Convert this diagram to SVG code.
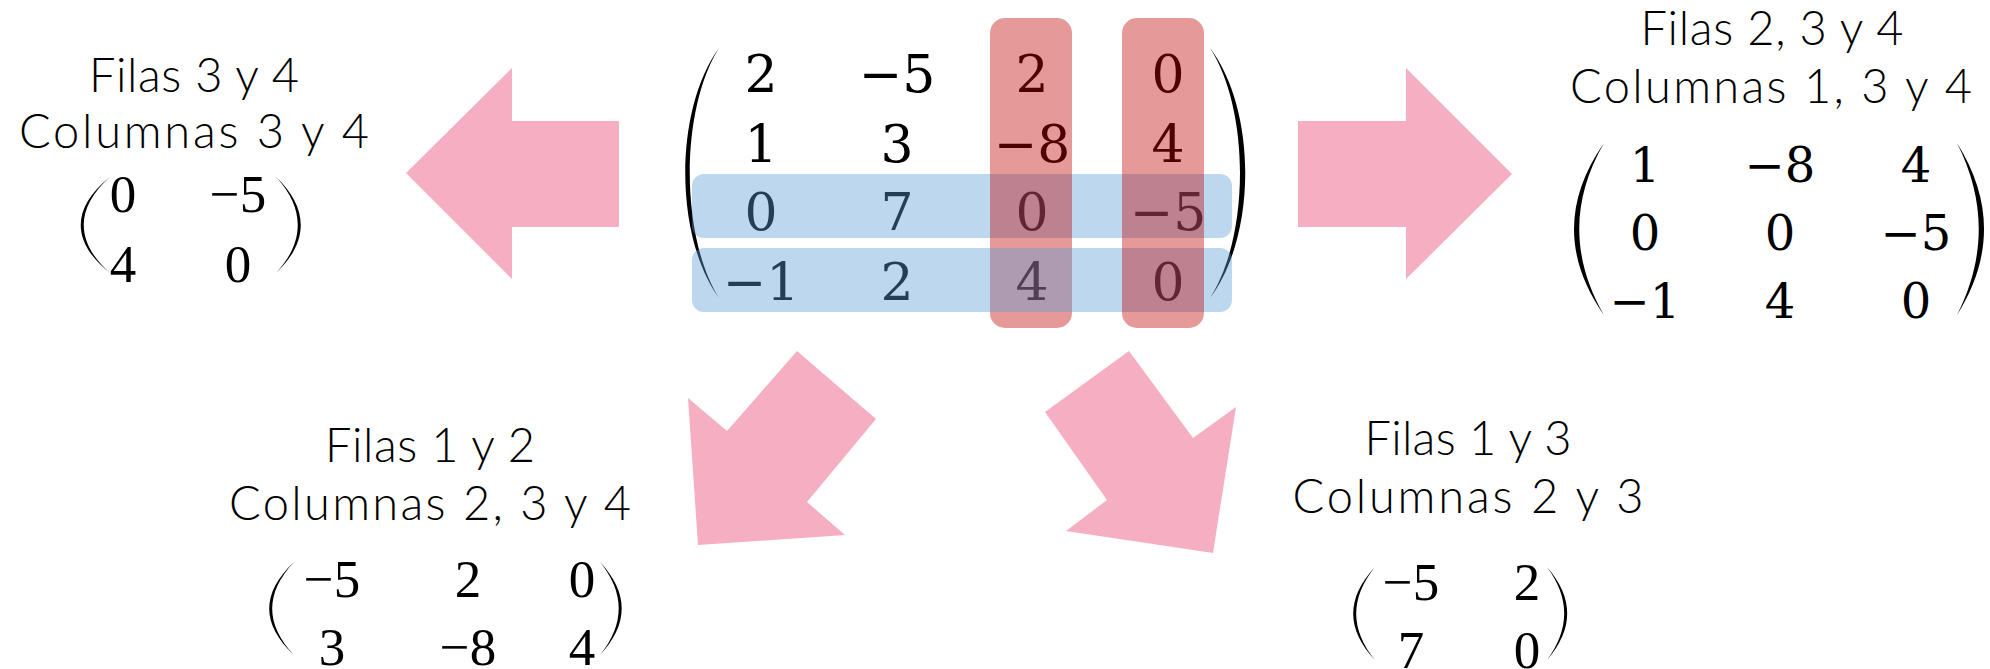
<svg xmlns="http://www.w3.org/2000/svg" width="1990" height="669" viewBox="0 0 1990 669">
<style>
.lbl{font-family:Lato,"Liberation Sans",Arial,sans-serif;font-weight:300;font-size:47px;fill:#000;text-anchor:middle}
.m{font-family:"Liberation Serif","Times New Roman",serif;fill:#000;text-anchor:middle}
.cm{font-family:"DejaVu Serif","Liberation Serif",serif;fill:#000;text-anchor:middle}
.big{font-size:52px}
.mid{font-size:48px}
.sm{font-size:53px}
.par{fill:#000}
.arrow{fill:#F6AFC2}
.row{fill:#5B9BD5;fill-opacity:0.4}
.col{fill:#C00000;fill-opacity:0.4}
</style>
<rect width="1990" height="669" fill="#fff"/>
<g id="connectors">
<polygon class="arrow" points="406,173 512,68 512,121 619,121 619,227 512,227 512,279"/>
<polygon class="arrow" points="1298,121 1406,121 1406,68 1512,174 1406,279 1406,227 1298,227"/>
<polygon class="arrow" points="797,351 876,419 807,502 845,535 698,545 688,398 727,431"/>
<polygon class="arrow" points="1129,351 1193,438 1236,407 1213,553 1066,531 1107,500 1045,412"/>
</g>
<g id="main-matrix">
<path class="par" d="M719,48 C674,110 674,236 719,298 C680,236 680,110 719,48 Z"/>
<path class="par" d="M1210,48 C1257,110 1257,236 1210,298 C1250,236 1250,110 1210,48 Z"/>
<g class="cm big">
<text x="761" y="92">2</text><text x="897" y="92">−5</text><text x="1032" y="92">2</text><text x="1168" y="92">0</text>
<text x="761" y="162">1</text><text x="897" y="162">3</text><text x="1032" y="162">−8</text><text x="1168" y="162">4</text>
<text x="761" y="230">0</text><text x="897" y="230">7</text><text x="1032" y="230">0</text><text x="1168" y="230">−5</text>
<text x="761" y="300">−1</text><text x="897" y="300">2</text><text x="1032" y="300">4</text><text x="1168" y="300">0</text>
</g>
<rect class="row" x="692" y="174" width="540" height="64" rx="12"/>
<rect class="col" x="990" y="18" width="82" height="310" rx="15"/>
<rect class="row" x="692" y="248" width="540" height="64" rx="12"/>
<rect class="col" x="1122" y="18" width="82" height="310" rx="15"/>
</g>
<g id="left-result">
<text class="lbl" x="194" y="92" textLength="210">Filas 3 y 4</text>
<text class="lbl" x="194" y="148" textLength="350">Columnas 3 y 4</text>
<path class="par" d="M110,177 C71,208 71,242 110,273 C75,242 75,208 110,177 Z"/>
<path class="par" d="M276,177 C309,208 309,242 276,273 C305,242 305,208 276,177 Z"/>
<g class="m sm">
<text x="123" y="212">0</text><text x="238" y="212">−5</text>
<text x="123" y="282">4</text><text x="238" y="282">0</text>
</g>
</g>
<g id="right-result">
<text class="lbl" x="1772" y="45" textLength="263">Filas 2, 3 y 4</text>
<text class="lbl" x="1771" y="103" textLength="402">Columnas 1, 3 y 4</text>
<path class="par" d="M1604,143 C1564,200 1564,258 1604,315 C1571,258 1571,200 1604,143 Z"/>
<path class="par" d="M1957,143 C1993,200 1993,258 1957,315 C1986,258 1986,200 1957,143 Z"/>
<g class="cm mid">
<text x="1645" y="182">1</text><text x="1780" y="182">−8</text><text x="1916" y="182">4</text>
<text x="1645" y="250">0</text><text x="1780" y="250">0</text><text x="1916" y="250">−5</text>
<text x="1645" y="318">−1</text><text x="1780" y="318">4</text><text x="1916" y="318">0</text>
</g>
</g>
<g id="bottom-left-result">
<text class="lbl" x="430" y="462" textLength="210">Filas 1 y 2</text>
<text class="lbl" x="430" y="520" textLength="402">Columnas 2, 3 y 4</text>
<path class="par" d="M294,562 C261,593 261,624 294,655 C265,624 265,593 294,562 Z"/>
<path class="par" d="M600,562 C629,593 629,624 600,655 C625,624 625,593 600,562 Z"/>
<g class="m sm">
<text x="332" y="597">−5</text><text x="468" y="597">2</text><text x="582" y="597">0</text>
<text x="332" y="665">3</text><text x="468" y="665">−8</text><text x="582" y="665">4</text>
</g>
</g>
<g id="bottom-right-result">
<text class="lbl" x="1468" y="455" textLength="207">Filas 1 y 3</text>
<text class="lbl" x="1468" y="513" textLength="351">Columnas 2 y 3</text>
<path class="par" d="M1375,567 C1346,598 1346,629 1375,660 C1350,629 1350,598 1375,567 Z"/>
<path class="par" d="M1547,567 C1574,598 1574,629 1547,660 C1570,629 1570,598 1547,567 Z"/>
<g class="m sm">
<text x="1411" y="600">−5</text><text x="1527" y="600">2</text>
<text x="1411" y="668">7</text><text x="1527" y="668">0</text>
</g>
</g>
</svg>
